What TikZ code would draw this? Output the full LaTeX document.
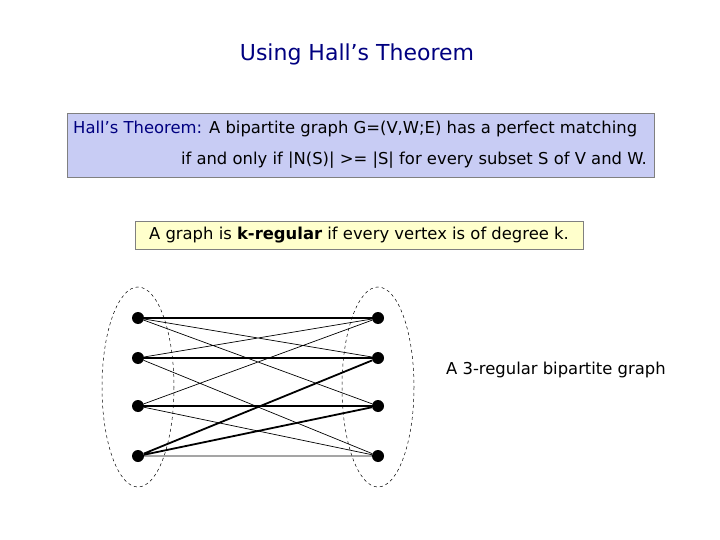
\documentclass[tikz,border=0pt]{standalone}
\usepackage{fontspec}
\setmainfont{DejaVu Sans}
\begin{document}
\begin{tikzpicture}[x=1pt,y=-1pt,
  vtx/.style={circle,fill=black,inner sep=0pt,minimum size=12pt},
  thin edge/.style={line width=0.7pt},
  thick edge/.style={line width=1.8pt},
  lbl/.style={font=\fontsize{16.4}{19}\selectfont,inner sep=0pt}]
\useasboundingbox (0,0) rectangle (720,540);
\node[font=\fontsize{22}{26}\selectfont,text=blue!50!black] (title) at (357,54) {Using Hall’s Theorem};
\draw[fill={rgb,255:red,200;green,204;blue,244},draw=gray,line width=0.8pt] (67,113) rectangle (654,177);
\node[lbl,anchor=west] (h1) at (73,129) {\textcolor{blue!50!black}{Hall’s Theorem:} A bipartite graph G=(V,W;E) has a perfect matching};
\node[lbl,anchor=east] (h2) at (647,160) {if and only if |N(S)| >= |S| for every subset S of V and W.};
\draw[fill={rgb,255:red,255;green,255;blue,204},draw=gray,line width=0.8pt] (135,221) rectangle (583,249);
\node[lbl] (kreg) at (359,235) {A graph is \textbf{k-regular} if every vertex is of degree k.};
\draw[dashed,line width=0.5pt] (138,387) ellipse (36 and 100);
\draw[dashed,line width=0.5pt] (378,387) ellipse (36 and 100);
\foreach \i/\y in {1/318,2/358,3/406,4/456}{
  \node[vtx] (L\i) at (138,\y) {};
  \node[vtx] (R\i) at (378,\y) {};
}
\draw[thick edge] (L1)--(R1) (L2)--(R2) (L3)--(R3) (L4)--(R2) (L4)--(R3);
\draw[thin edge] (L1)--(R2) (L1)--(R3) (L2)--(R1) (L2)--(R4) (L3)--(R1) (L3)--(R4) (L4)--(R4);
\node[lbl,anchor=west] (cap) at (446,370) {A 3-regular bipartite graph};
\end{tikzpicture}
\end{document}
